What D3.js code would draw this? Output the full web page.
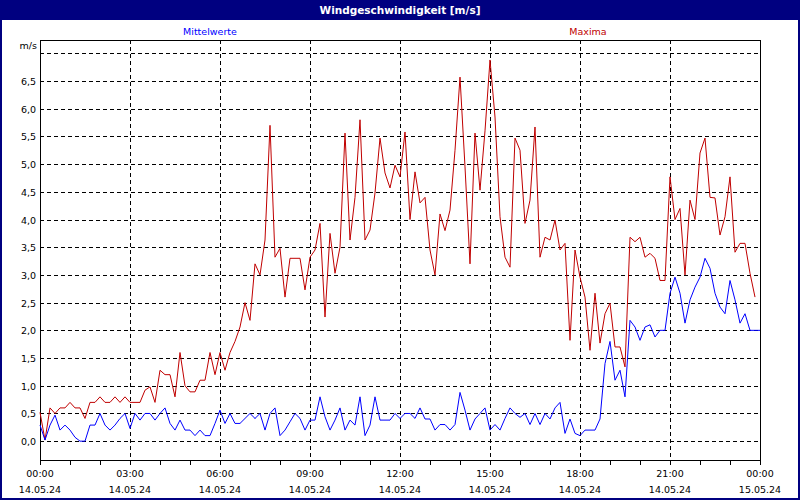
<!DOCTYPE html>
<html><head><meta charset="utf-8">
<script src="https://cdn.jsdelivr.net/npm/d3@7"></script>
<style>body{margin:0;background:#fff}svg{display:block;font-family:"DejaVu Sans",Verdana,sans-serif}</style>
</head><body><svg id="c" width="800" height="500"></svg>
<script>
const title = "Windgeschwindigkeit [m/s]";
const seriesNames = ["Mittelwerte", "Maxima"];
const unitLabel = "m/s";
const yTicks = [0,0.5,1,1.5,2,2.5,3,3.5,4,4.5,5,5.5,6,6.5];
const xTickHours = [0,3,6,9,12,15,18,21,24];
const xTickDates = ["14.05.24","14.05.24","14.05.24","14.05.24","14.05.24","14.05.24","14.05.24","14.05.24","15.05.24"];
const stepMinutes = 10;
const maxima = [0.52,0.02,0.6,0.5,0.6,0.6,0.7,0.6,0.6,0.41,0.7,0.7,0.8,0.7,0.7,0.8,0.7,0.8,0.7,0.7,0.7,0.92,0.98,0.7,1.28,1.2,1.2,0.8,1.6,1.0,0.89,0.89,1.1,1.1,1.6,1.2,1.6,1.28,1.6,1.8,2.06,2.5,2.18,3.2,3.0,3.63,5.7,3.32,3.48,2.6,3.3,3.3,3.3,2.73,3.32,3.45,3.93,2.24,3.75,3.03,3.5,5.56,3.63,4.4,5.8,3.63,3.81,4.48,5.47,4.84,4.57,
4.98,4.77,5.58,4.0,4.86,4.3,4.4,3.45,3.0,4.1,3.8,4.17,5.25,6.57,4.95,3.2,5.56,4.53,5.6,6.88,5.85,4.05,3.32,3.14,5.47,5.25,3.93,4.35,5.67,3.32,3.68,3.63,3.99,3.45,3.57,1.82,3.45,2.96,2.6,1.64,2.67,1.77,2.3,2.49,1.7,1.7,1.34,3.68,3.6,3.68,3.32,3.39,3.3,2.9,2.9,4.77,4.0,4.2,3.0,4.35,4.0,5.2,5.47,4.4,4.39,3.72,4.05,4.77,3.41,3.57,3.57,3.03,2.6];
const mittel = [0.29,0.02,0.29,0.47,0.2,0.29,0.2,0.07,0,0,0.29,0.29,0.5,0.29,0.2,0.29,0.41,0.5,0.23,0.5,0.38,0.5,0.5,0.38,0.5,0.6,0.32,0.2,0.38,0.2,0.2,0.1,0.2,0.1,0.1,0.32,0.56,0.32,0.5,0.32,0.32,0.41,0.5,0.41,0.5,0.2,0.5,0.6,0.1,0.2,0.35,0.5,0.41,0.2,0.38,0.38,0.8,0.44,0.2,0.38,0.6,0.2,0.38,0.29,0.8,0.1,0.29,0.8,0.38,0.38,0.38,
0.5,0.41,0.5,0.5,0.41,0.6,0.4,0.4,0.2,0.3,0.3,0.2,0.3,0.88,0.56,0.2,0.4,0.5,0.6,0.2,0.3,0.2,0.41,0.6,0.5,0.43,0.5,0.3,0.5,0.3,0.5,0.4,0.6,0.7,0.14,0.4,0.14,0.1,0.2,0.2,0.2,0.4,1.4,1.8,1.1,1.28,0.8,2.18,2.06,1.82,2.06,2.1,1.88,2.0,2.0,2.67,2.96,2.67,2.13,2.55,2.78,2.96,3.3,3.12,2.67,2.42,2.3,2.9,2.55,2.13,2.3,2.0,2.0,2.0];

const svg = d3.select("#c");
const L=40,R=760,T=40,B=460;
const x = d3.scaleLinear().domain([0,24]).range([L,R]);
const y = d3.scaleLinear().domain([-0.34,7.24]).range([B,T]);

svg.append("rect").attr("x",0).attr("y",0).attr("width",800).attr("height",500).attr("fill","#000080");
svg.append("rect").attr("x",2).attr("y",20).attr("width",796).attr("height",478).attr("fill","#fff");
svg.append("text").attr("x",400).attr("y",14).attr("text-anchor","middle").attr("fill","#fff")
  .attr("font-size",10.5).attr("font-weight","bold").text(title);
svg.append("text").attr("x",210).attr("y",35).attr("text-anchor","middle").attr("fill","#0000ff").attr("font-size",9.5).text(seriesNames[0]);
svg.append("text").attr("x",588).attr("y",35).attr("text-anchor","middle").attr("fill","#c00000").attr("font-size",9.5).text(seriesNames[1]);
svg.append("text").attr("x",37).attr("y",49).attr("text-anchor","end").attr("font-size",9.5).text(unitLabel);

const g = svg.append("g").attr("shape-rendering","crispEdges");
g.selectAll(".hg").data(yTicks.concat([7])).join("line")
  .attr("x1",L).attr("x2",R).attr("y1",d=>Math.round(y(d))+0.5).attr("y2",d=>Math.round(y(d))+0.5)
  .attr("stroke","#000").attr("stroke-dasharray","4,3");
g.selectAll(".vg").data(xTickHours.slice(1,-1)).join("line")
  .attr("y1",T).attr("y2",B).attr("x1",d=>Math.round(x(d))+0.5).attr("x2",d=>Math.round(x(d))+0.5)
  .attr("stroke","#000").attr("stroke-dasharray","4,3");
g.append("rect").attr("x",L+0.5).attr("y",T+0.5).attr("width",R-L).attr("height",B-T).attr("fill","none").attr("stroke","#000");

svg.selectAll(".yl").data(yTicks).join("text").attr("x",36).attr("y",d=>y(d)+4)
  .attr("text-anchor","end").attr("font-size",9.5).text(d=>d3.format(".1f")(d).replace(".",","));

const xa = svg.append("g").attr("transform",`translate(0,${B})`)
  .call(d3.axisBottom(x).tickValues(d3.range(0,25,1)).tickSize(5).tickFormat(""));
xa.select(".domain").remove();
xa.selectAll("line").attr("shape-rendering","crispEdges");
svg.selectAll(".xl").data(xTickHours).join("text").attr("x",d=>x(d)).attr("y",477)
  .attr("text-anchor","middle").attr("font-size",9.5).text(d=>String(d%24===0&&d>0?0:d).padStart(2,"0")+":00");
svg.selectAll(".xd").data(xTickHours).join("text").attr("x",d=>x(d)).attr("y",493)
  .attr("text-anchor","middle").attr("font-size",9.5).text((d,i)=>xTickDates[i]);

const line = d3.line().x((d,i)=>x(i*stepMinutes/60)).y(d=>y(d));
svg.append("path").datum(maxima).attr("d",line).attr("fill","none").attr("stroke","#c00000").attr("stroke-width",1);
svg.append("path").datum(mittel).attr("d",line).attr("fill","none").attr("stroke","#0000ff").attr("stroke-width",1);
</script></body></html>
